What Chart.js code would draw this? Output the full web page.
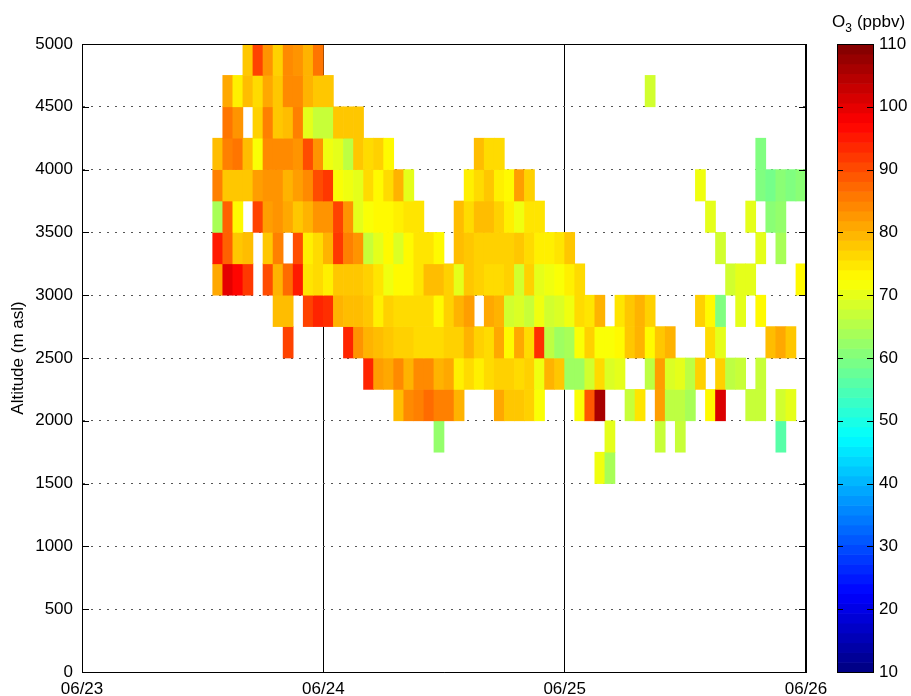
<!DOCTYPE html>
<html lang="en">
<head>
  <meta charset="utf-8">
  <title>O3 altitude - time section</title>
  <script src="https://cdn.jsdelivr.net/npm/chart.js@4"></script>
  <style>
    html, body { margin: 0; padding: 0; background: #fff; }
    #wrap { width: 911px; height: 696px; }
  </style>
</head>
<body>
  <div id="wrap"><canvas id="chart" width="911" height="696"></canvas></div>
  <script>
    // x = hours since 06/23 00:00, each cell is one hour wide and 250 m tall
    const dayLabels = ['06/23', '06/24', '06/25', '06/26'];
    const binHeight = 250;
    const altBins = [1500, 1750, 2000, 2250, 2500, 2750, 3000, 3250, 3500, 3750, 4000, 4250, 4500, 4750];
    const cbTicks = [10, 20, 30, 40, 50, 60, 70, 80, 90, 100, 110];

    // [hour, O3 ppbv] per altitude bin (bin bottom in m asl)
    const o3_4750 = [[16,78],[17,91],[18,83],[19,77],[20,84],[21,83],[22,80],[23,86]];
    const o3_4500 = [[14,81],[15,74],[16,79],[17,76],[18,81],[19,78],[20,84],[21,84],[22,80],[23,78],[24,78],[56,68]];
    const o3_4250 = [[14,86],[15,83],[17,77],[18,85],[19,78],[20,79],[21,85],[22,70],[23,67],[24,67],[25,78],[26,78],[27,78]];
    const o3_4000 = [[13,79],[14,85],[15,86],[16,79],[17,72],[18,84],[19,84],[20,84],[21,83],[22,90],[23,83],[24,71],[25,70],[26,66],[27,78],[28,76],[29,77],[30,73],[39,79],[40,76],[41,76],[67,60]];
    const o3_3750 = [[13,85],[14,78],[15,78],[16,78],[17,82],[18,83],[19,83],[20,80],[21,82],[22,84],[23,90],[24,92],[25,72],[26,71],[27,70],[28,76],[29,73],[30,76],[31,80],[32,70],[38,74],[39,76],[40,78],[41,74],[42,73],[43,82],[44,77],[61,71],[67,60],[68,59],[69,61],[70,60],[71,61]];
    const o3_3500 = [[13,64],[14,88],[15,73],[17,91],[18,82],[19,83],[20,81],[21,78],[22,80],[23,83],[24,83],[25,91],[26,83],[27,70],[28,72],[29,73],[30,73],[31,74],[32,75],[33,75],[37,79],[38,76],[39,79],[40,79],[41,77],[42,74],[43,71],[44,75],[45,75],[62,70],[66,70],[68,61],[69,62]];
    const o3_3250 = [[13,95],[14,88],[15,78],[16,79],[18,78],[19,85],[21,90],[22,74],[23,76],[24,80],[25,92],[26,85],[27,83],[28,67],[29,70],[30,73],[31,69],[32,73],[33,75],[34,75],[35,73],[37,79],[38,78],[39,77],[40,77],[41,77],[42,77],[43,78],[44,76],[45,74],[46,74],[47,75],[48,78],[63,68],[67,70],[69,64]];
    const o3_3000 = [[13,81],[14,100],[15,97],[16,92],[18,90],[19,80],[20,87],[21,95],[22,75],[23,76],[24,74],[25,78],[26,78],[27,78],[28,77],[29,75],[30,71],[31,73],[32,73],[33,75],[34,79],[35,79],[36,77],[37,70],[38,78],[39,77],[40,76],[41,76],[42,77],[43,68],[44,77],[45,70],[46,71],[47,72],[48,74],[49,76],[64,68],[65,70],[66,70],[71,73]];
    const o3_2750 = [[19,79],[20,79],[22,91],[23,94],[24,93],[25,80],[26,79],[27,79],[28,78],[29,74],[30,77],[31,76],[32,76],[33,76],[34,76],[35,73],[36,77],[37,80],[38,82],[40,81],[41,80],[42,68],[43,69],[44,67],[45,71],[46,68],[47,69],[48,71],[49,76],[50,75],[51,80],[53,75],[54,78],[55,80],[56,77],[61,77],[62,73],[63,60],[65,70],[67,73]];
    const o3_2500 = [[20,91],[26,94],[27,83],[28,80],[29,79],[30,78],[31,77],[32,77],[33,76],[34,76],[35,76],[36,77],[37,77],[38,80],[39,77],[40,76],[41,81],[42,73],[43,81],[44,76],[45,93],[46,66],[47,63],[48,64],[49,72],[50,77],[51,72],[52,72],[53,73],[54,78],[55,80],[56,73],[57,78],[58,80],[62,76],[63,70],[68,79],[69,81],[70,78]];
    const o3_2250 = [[28,94],[29,82],[30,81],[31,84],[32,80],[33,84],[34,84],[35,80],[36,81],[37,74],[38,76],[39,74],[40,76],[41,77],[42,77],[43,76],[44,77],[45,71],[46,80],[47,78],[48,63],[49,63],[50,68],[51,76],[52,69],[53,70],[56,66],[57,82],[58,69],[59,70],[60,66],[61,77],[63,77],[64,66],[65,67],[67,67]];
    const o3_2000 = [[31,79],[32,84],[33,85],[34,87],[35,85],[36,85],[37,80],[41,81],[42,78],[43,78],[44,77],[45,72],[49,72],[50,89],[51,106],[54,67],[55,75],[57,82],[58,66],[59,66],[60,64],[62,73],[63,101],[66,67],[67,67],[69,68],[70,70]];
    const o3_1750 = [[35,62],[52,70],[57,67],[59,67],[69,56]];
    const o3_1500 = [[51,71],[52,64]];

    const rows = [o3_1500, o3_1750, o3_2000, o3_2250, o3_2500, o3_2750, o3_3000, o3_3250, o3_3500, o3_3750, o3_4000, o3_4250, o3_4500, o3_4750];

    // MATLAB-style jet colormap, caxis [10 110]
    function jet(v) {
      const t = Math.min(1, Math.max(0, (v - 10) / 100));
      const f = c => Math.round(255 * Math.min(1, Math.max(0, 1.5 - Math.abs(4 * t - c))));
      return 'rgb(' + f(3) + ',' + f(2) + ',' + f(1) + ')';
    }

    const cells = [];
    const colors = [];
    altBins.forEach((alt, i) => {
      rows[i].forEach(([h, v]) => {
        cells.push({ x: h + 0.5, y: [alt, alt + binHeight], v: v });
        colors.push(jet(v));
      });
    });

    const FONT = "'Liberation Sans', Arial, Helvetica, sans-serif";

    const frameAndColorbar = {
      id: 'frameAndColorbar',
      afterDraw(chart) {
        const ctx = chart.ctx;
        const a = chart.chartArea;
        const ys = chart.scales.y;
        ctx.save();
        // box round the plot + inward ticks on the y sides
        ctx.strokeStyle = '#000';
        ctx.lineWidth = 1;
        ctx.beginPath();
        ctx.moveTo(a.left, a.top + 0.5); ctx.lineTo(a.right, a.top + 0.5);
        ctx.moveTo(a.right - 0.5, a.top); ctx.lineTo(a.right - 0.5, a.bottom);
        ys.ticks.forEach(t => {
          const y = Math.round(ys.getPixelForValue(t.value)) + 0.5;
          ctx.moveTo(a.left, y); ctx.lineTo(a.left + 7, y);
          ctx.moveTo(a.right - 7, y); ctx.lineTo(a.right, y);
        });
        ctx.stroke();

        // colour bar
        const s = chart.scales.cb;
        const x0 = s.left + 31, w = 36;
        const n = 64, step = (s.max - s.min) / n;
        for (let i = 0; i < n; i++) {
          const lo = s.min + i * step, hi = lo + step;
          const yt = s.getPixelForValue(hi), yb = s.getPixelForValue(lo);
          ctx.fillStyle = jet((lo + hi) / 2);
          ctx.fillRect(x0, yt, w, yb - yt + 0.6);
        }
        ctx.strokeStyle = '#000';
        ctx.strokeRect(x0 + 0.5, s.top + 0.5, w, s.bottom - s.top);
        ctx.beginPath();
        s.ticks.forEach(t => {
          const y = Math.round(s.getPixelForValue(t.value)) + 0.5;
          ctx.moveTo(x0, y); ctx.lineTo(x0 + 6, y);
          ctx.moveTo(x0 + w - 6, y); ctx.lineTo(x0 + w, y);
        });
        ctx.stroke();

        // colour bar title: O3 (ppbv)
        ctx.fillStyle = '#000';
        ctx.textBaseline = 'alphabetic';
        ctx.textAlign = 'left';
        ctx.font = '17px ' + FONT;
        let tx = x0 - 5;
        ctx.fillText('O', tx, 27);
        tx += ctx.measureText('O').width;
        ctx.font = '12px ' + FONT;
        ctx.fillText('3', tx, 32);
        tx += ctx.measureText('3').width + 5;
        ctx.font = '17px ' + FONT;
        ctx.fillText('(ppbv)', tx, 27);
        ctx.restore();
      }
    };

    new Chart(document.getElementById('chart'), {
      type: 'bar',
      data: {
        datasets: [{
          data: cells,
          backgroundColor: colors,
          borderWidth: 0,
          categoryPercentage: 1,
          barPercentage: 1
        }]
      },
      options: {
        responsive: false,
        animation: false,
        layout: { padding: { top: 44, right: 0, bottom: 0, left: 0 } },
        plugins: { legend: { display: false }, tooltip: { enabled: false } },
        scales: {
          x: {
            type: 'linear',
            min: 0, max: 72,
            offset: false,
            z: 1,
            afterFit: s => { s.height = 24; },
            grid: { offset: false, color: '#000', lineWidth: 1, drawTicks: false },
            border: { display: true, color: '#000' },
            ticks: {
              stepSize: 24,
              padding: 7,
              color: '#000',
              font: { size: 17, family: FONT },
              maxRotation: 0,
              callback: v => dayLabels[v / 24]
            }
          },
          y: {
            type: 'linear',
            min: 0, max: 5000,
            afterFit: s => { s.width = 82; },
            grid: { color: '#555', lineWidth: 1, drawTicks: false },
            border: { display: true, color: '#000', dash: [2, 6] },
            ticks: { stepSize: 500, padding: 9, color: '#000', font: { size: 17, family: FONT }, callback: v => String(v) },
            title: { display: true, text: 'Altitude (m asl)', color: '#000', font: { size: 17, family: FONT }, padding: { top: 8, bottom: 0 } }
          },
          cb: {
            type: 'linear',
            position: 'right',
            min: 10, max: 110,
            afterFit: s => { s.width = 105; s.paddingTop = 0; s.paddingBottom = 0; },
            afterBuildTicks: s => { s.ticks = cbTicks.map(v => ({ value: v })); },
            grid: { display: false, drawTicks: false },
            border: { display: false },
            ticks: { padding: 73, color: '#000', font: { size: 17, family: FONT } }
          }
        }
      },
      plugins: [frameAndColorbar]
    });
  </script>
</body>
</html>
